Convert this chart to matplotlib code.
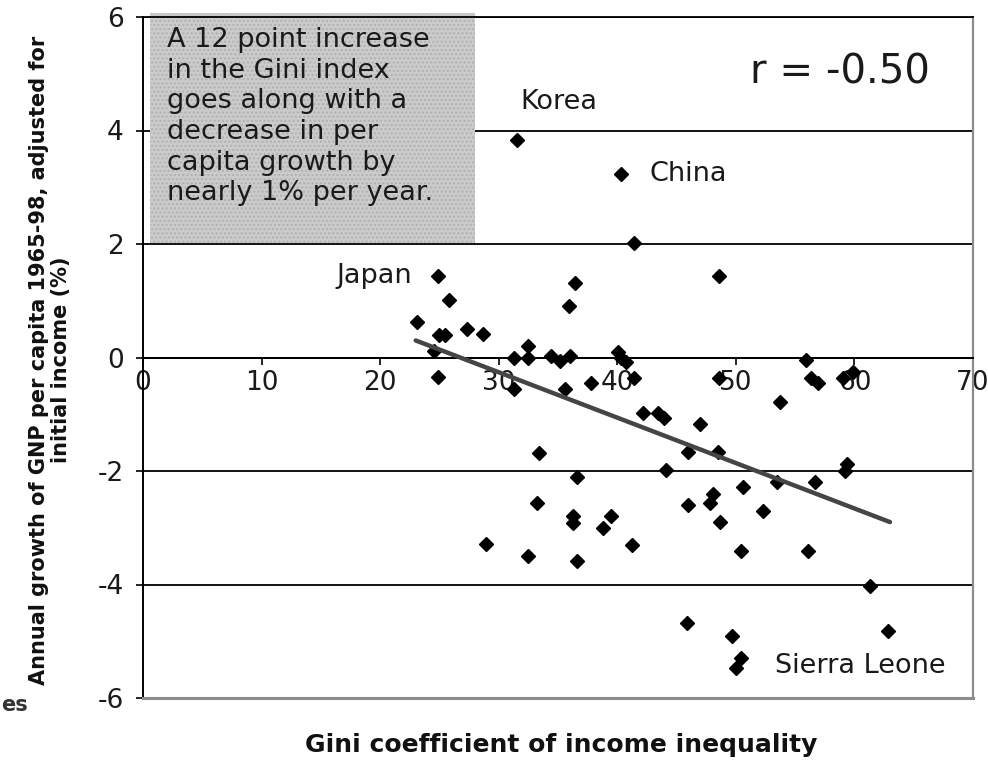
import matplotlib
matplotlib.use("Agg")
import matplotlib.pyplot as plt
from matplotlib.patches import Rectangle

# ---- data ----
gini = [31.5, 40.3, 41.4, 24.9, 48.6, 36.4, 25.8, 35.9, 23.1, 27.3,
        25.0, 25.5, 28.7, 24.5, 24.9, 31.3, 32.5, 32.5, 34.4, 35.2,
        36.0, 40.1, 40.3, 40.7, 41.4, 31.3, 35.6, 37.8, 48.6, 55.9,
        56.3, 56.9, 59.0, 59.9, 53.7, 42.2, 43.4, 43.9, 47.0, 46.0,
        48.5, 33.4, 44.1, 36.6, 50.6, 53.5, 56.7, 59.4, 59.2, 52.3,
        48.1, 46.0, 47.8, 48.7, 33.2, 36.3, 36.3, 39.5, 38.8, 28.9,
        32.5, 36.6, 41.2, 50.4, 56.1, 61.3, 45.9, 49.7, 50.4, 50.0,
        62.8]
growth = [3.83, 3.24, 2.02, 1.44, 1.44, 1.31, 1.01, 0.90, 0.62, 0.50,
          0.39, 0.39, 0.41, 0.12, -0.35, 0.00, 0.21, 0.00, 0.02, -0.07,
          0.02, 0.10, 0.00, -0.08, -0.36, -0.55, -0.55, -0.45, -0.37, -0.05,
          -0.37, -0.45, -0.37, -0.25, -0.78, -0.97, -0.97, -1.06, -1.18, -1.67,
          -1.67, -1.68, -1.99, -2.10, -2.29, -2.20, -2.20, -1.88, -2.00, -2.70,
          -2.40, -2.60, -2.57, -2.90, -2.57, -2.79, -2.91, -2.79, -3.00, -3.29,
          -3.50, -3.58, -3.31, -3.41, -3.41, -4.02, -4.67, -4.90, -5.30, -5.48,
          -4.82]

trend_x = [23.0, 63.0]
trend_y = [0.30, -2.90]

x_ticks = [0, 10, 20, 30, 40, 50, 60, 70]
y_ticks = [-6, -4, -2, 0, 2, 4, 6]

labels = ["Korea", "China", "Japan", "Sierra Leone"]
label_x = [31.8, 42.7, 22.7, 53.3]
label_y = [4.50, 3.24, 1.43, -5.43]
label_ha = ["left", "left", "right", "left"]

note_text = ("A 12 point increase\nin the Gini index\ngoes along with a\n"
             "decrease in per\ncapita growth by\nnearly 1% per year.")
r_text = "r = -0.50"
xlabel = "Gini coefficient of income inequality"
ylabel = "Annual growth of GNP per capita 1965-98, adjusted for\ninitial income (%)"

# ---- figure ----
fig = plt.figure(figsize=(9.88, 7.6), dpi=100)
ax = fig.add_axes([143 / 988, 1 - 698 / 760, (973 - 143) / 988, (698 - 17) / 760])
ax.set_xlim(0, 70)
ax.set_ylim(-6, 6)

txtcol = "#1a1a1a"
narrow = ["Liberation Sans Narrow", "DejaVu Sans Condensed", "DejaVu Sans"]

# grid
ax.set_yticks(y_ticks)
ax.set_xticks(x_ticks)
ax.yaxis.grid(True, color="black", lw=1.3, zorder=0)
ax.set_axisbelow(True)

# spines
ax.spines["bottom"].set_position(("data", 0))
ax.spines["bottom"].set_color("black")
ax.spines["bottom"].set_linewidth(1.4)
ax.spines["left"].set_color("black")
ax.spines["left"].set_linewidth(1.4)
ax.spines["top"].set_color("black")
ax.spines["top"].set_linewidth(1.3)
ax.spines["right"].set_color("#8c8c8c")
ax.spines["right"].set_linewidth(1.6)
ax.axhline(-6, color="#8c8c8c", lw=2.2, zorder=3, clip_on=False)

ax.tick_params(axis="both", direction="out", length=5, width=1.2,
               colors="black", labelcolor=txtcol, labelsize=19)
ax.tick_params(axis="y", pad=9)
ax.tick_params(axis="x", pad=4)
ax.set_xticklabels([str(v) for v in x_ticks])
ax.set_yticklabels([str(v) for v in y_ticks])

# note box
box = Rectangle((0.6, 2.02), 27.4, 4.05, facecolor="#cbcbcb", edgecolor="#b0b0b0",
                lw=0, hatch="....", zorder=2, clip_on=False)
ax.add_patch(box)
ax.text(2.0, 5.82, note_text, fontsize=19.5, color=txtcol, ha="left", va="top",
        linespacing=1.23, zorder=4)

# r value
ax.text(51.2, 5.02, r_text, fontsize=29, color=txtcol, ha="left", va="center", zorder=4)

# scatter + trend
ax.plot(gini, growth, linestyle="none", marker="D", markersize=7.5,
        color="black", zorder=5)
ax.plot(trend_x, trend_y, color="#454545", lw=3.2, solid_capstyle="round", zorder=6)

for t, x, y, ha in zip(labels, label_x, label_y, label_ha):
    ax.text(x, y, t, fontsize=19.5, color=txtcol, ha=ha, va="center", zorder=4)

# axis titles
fig.text(561 / 988, 1 - 745 / 760, xlabel, fontsize=18, fontweight="bold",
         family=narrow, ha="center", va="center", color="#111111")
fig.text(50 / 988, 1 - 360 / 760, ylabel, fontsize=15, fontweight="bold",
         family=narrow, ha="center", va="center", rotation=90,
         multialignment="center", linespacing=1.15, color="#111111")

# small fragment at bottom-left edge
fig.text(1 / 988, 1 - 705 / 760, "es", fontsize=15, fontweight="bold",
         ha="left", va="center", color="#333333")

fig.savefig("out.png", dpi=100)
